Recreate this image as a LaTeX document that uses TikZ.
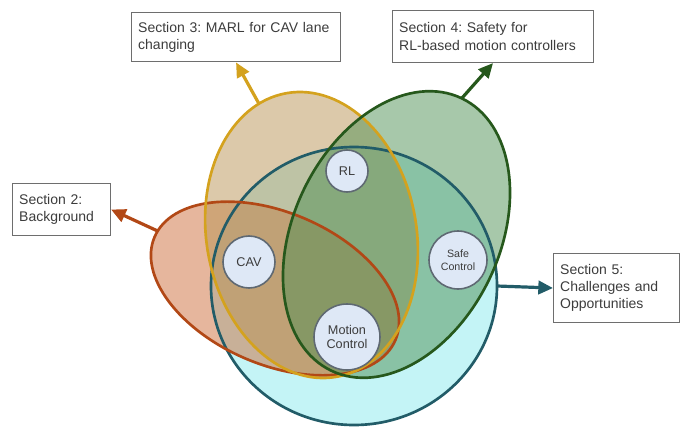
\documentclass[tikz,border=0pt]{standalone}
\usepackage{fontspec}
\setmainfont{Liberation Sans}
\usetikzlibrary{arrows.meta}

\definecolor{cyanfill}{RGB}{196,244,246}
\definecolor{orangefill}{RGB}{205,110,60}
\definecolor{goldfill}{RGB}{185,148,85}
\definecolor{greenfill}{RGB}{80,145,85}
\definecolor{cyanline}{RGB}{34,92,104}
\definecolor{orangeline}{RGB}{178,72,22}
\definecolor{goldline}{RGB}{212,162,30}
\definecolor{greenline}{RGB}{38,88,28}
\definecolor{boxgray}{RGB}{110,110,110}
\definecolor{textgray}{RGB}{60,60,60}
\definecolor{dotfill}{RGB}{222,232,246}
\definecolor{dotedge}{RGB}{95,105,115}

\begin{document}
\frenchspacing
\begin{tikzpicture}[x=0.75pt, y=-0.75pt, >={Triangle[length=11pt, width=10pt]}, line width=2pt,
		sec/.style={draw=boxgray, line width=0.8pt, text=textgray, font=\fontsize{10.5}{13}\selectfont, align=left, anchor=north west, inner xsep=5pt, inner ysep=0pt},
		topic/.style={circle, draw=dotedge, fill=dotfill, line width=1.2pt, text=textgray, font=\fontsize{9.5}{11}\selectfont, align=center, inner sep=0pt},
		pointer/.style={->, line width=2.4pt}]
		\useasboundingbox (0,0) rectangle (682,428);
		
		% areas of the sections
		\foreach \cx/\cy/\rx/\ry/\rot/\col/\op in {354/286/143/139/0/cyanfill/1, 275/288.5/131/76/-23.2/orangefill/.5, 311.5/235/105/144/10/goldfill/.5, 396.5/234.5/103/151/-25.6/greenfill/.5}
			\fill[\col, fill opacity=\op, shift={(\cx,\cy)}, rotate=\rot] (0,0) ellipse [x radius=\rx, y radius=\ry];
		\foreach \cx/\cy/\rx/\ry/\rot/\col/\ang/\nm in {354/286/143/139/0/cyanline/0/o5, 275/288.5/131/76/-23.2/orangeline/185/o2, 311.5/235/105/144/10/goldline/254/o3, 396.5/234.5/103/151/-25.6/greenline/270/o4}{
			\begin{scope}[shift={(\cx,\cy)}, rotate=\rot]
				\draw[\col] (0,0) ellipse [x radius=\rx, y radius=\ry];
				\coordinate (\nm) at ({\rx*cos(\ang)}, {\ry*sin(\ang)});
			\end{scope}
		}
		
		\node[topic, minimum size=31.5pt] (rl) at (347,171) {RL};
		\node[topic, minimum size=39pt] (cav) at (249,262) {CAV};
		\node[topic, minimum size=43.5pt, font=\fontsize{8}{9.5}\selectfont] (safe) at (458,260) {Safe\\Control};
		\node[topic, minimum size=49.5pt] (motion) at (347,337) {Motion\\Control};
		
		\node[sec, text width=63.5pt, minimum height=39pt] (s2) at (12,183) {Section 2:\\Background};
		\node[sec, text width=146.75pt, minimum height=37pt] (s3) at (131,12) {Section 3: MARL for CAV lane\\changing};
		\node[sec, text width=140.75pt, minimum height=39pt] (s4) at (392,10) {Section 4: Safety for\\RL-based motion controllers};
		\node[sec, text width=84.5pt, minimum height=51.75pt] (s5) at (553,253) {Section 5:\\Challenges and\\Opportunities};
		
		\path (o2) edge[pointer, orangeline] (s2.east)
			(o3) edge[pointer, goldline] (s3.south)
			(o4) edge[pointer, greenline] (s4.south)
			(o5) edge[pointer, cyanline] (s5.west);
\end{tikzpicture}
\end{document}
